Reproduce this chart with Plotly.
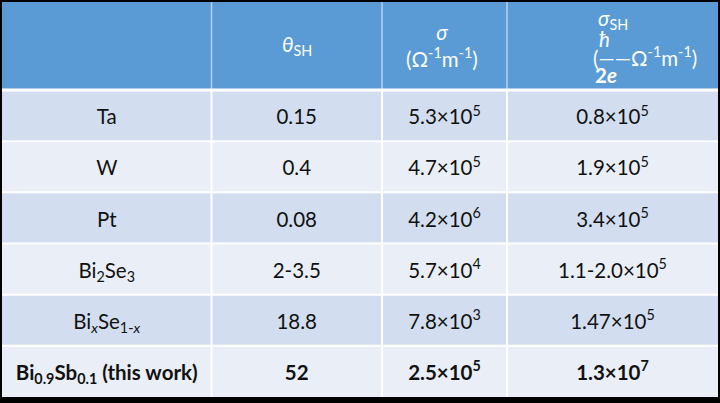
import plotly.graph_objects as go

# table content
materials = ["Ta", "W", "Pt", "Bi<sub>2</sub>Se<sub>3</sub>",
             "Bi<sub><i>x</i></sub>Se<sub>1-<i>x</i></sub>",
             "Bi<sub>0.9</sub>Sb<sub>0.1</sub> (this work)"]
theta_sh = ["0.15", "0.4", "0.08", "2-3.5", "18.8", "52"]
sigma_mant = ["5.3", "4.7", "4.2", "5.7", "7.8", "2.5"]
sigma_exp = [5, 5, 6, 4, 3, 5]
sigma_sh_mant = ["0.8", "1.9", "3.4", "1.1-2.0", "1.47", "1.3"]
sigma_sh_exp = [5, 5, 5, 5, 5, 7]

# geometry (px inside the table)
col_edges = [0, 209.5, 380, 505, 716]
header_h = 88
row_h = 51.2

def sci(m, e):
    return f"{m}×10<sup>{e}</sup>"

sigma = [sci(m, e) for m, e in zip(sigma_mant, sigma_exp)]
sigma_sh = [sci(m, e) for m, e in zip(sigma_sh_mant, sigma_sh_exp)]
cols = [materials, theta_sh, sigma, sigma_sh]
n = len(materials)

row_edges = [0, header_h] + [header_h + row_h * (i + 1) for i in range(n)]
col_mid = [(a + b) / 2 for a, b in zip(col_edges[:-1], col_edges[1:])]
# text sits a little below the geometric middle, like the original
row_mid = [(a + b) / 2 + 3.5 for a, b in zip(row_edges[1:-1], row_edges[2:])]

# fills: 0 header, 1 dark row, 2 light row
z = [[0] * 4] + [[1 if i % 2 == 0 else 2] * 4 for i in range(n)]

fig = go.Figure()
fig.add_trace(go.Heatmap(
    x=col_edges, y=row_edges, z=z, zmin=0, zmax=2,
    colorscale=[[0, "#5B9BD5"], [0.5, "#D2DEEF"], [1, "#EAEFF7"]],
    showscale=False, hoverinfo="skip",
))

# body text
font = dict(family="Lato", size=20.5, color="#111111")
for j, col in enumerate(cols):
    txt = [f"<b>{v}</b>" if i == n - 1 else v for i, v in enumerate(col)]
    fig.add_trace(go.Scatter(
        x=[col_mid[j]] * n, y=row_mid, text=txt, mode="text",
        textposition="middle center", textfont=font, hoverinfo="skip",
        showlegend=False, cliponaxis=False,
    ))

# header text
hfont = dict(family="Lato", size=20.5, color="white")
hc = header_h / 2
fig.add_annotation(x=col_mid[1], y=hc, text="<i>θ</i><sub>SH</sub>", showarrow=False, font=hfont)
fig.add_annotation(x=col_mid[2] - 3, y=hc, text="<i>σ</i><br>(Ω<sup>-1</sup>m<sup>-1</sup>)",
                   showarrow=False, font=hfont)
fig.add_annotation(x=col_mid[3], y=hc - 26, text="<i>σ</i><sub>SH</sub>", showarrow=False, font=hfont)
fig.add_annotation(x=col_mid[3] - 22, y=hc + 11, text="(――Ω<sup>-1</sup>m<sup>-1</sup>)",
                   showarrow=False, font=hfont, xanchor="left")
fig.add_annotation(x=col_mid[3] - 8, y=hc - 7, text="<i>ħ</i>", showarrow=False, font=hfont)
fig.add_annotation(x=col_mid[3] - 7, y=hc + 29, text="<b>2<i>e</i></b>", showarrow=False, font=hfont)

# grid lines
for x in col_edges[1:-1]:
    fig.add_shape(type="line", x0=x, x1=x, y0=0, y1=header_h, line=dict(color="#B4D0EC", width=1.5))
    fig.add_shape(type="line", x0=x, x1=x, y0=header_h, y1=row_edges[-1], line=dict(color="white", width=2))
fig.add_shape(type="line", x0=0, x1=col_edges[-1], y0=header_h, y1=header_h, line=dict(color="white", width=3))
for y in row_edges[2:-1]:
    fig.add_shape(type="line", x0=0, x1=col_edges[-1], y0=y, y1=y, line=dict(color="white", width=2))

fig.update_xaxes(range=[0, col_edges[-1]], visible=False, fixedrange=True)
fig.update_yaxes(range=[row_edges[-1], 0], visible=False, fixedrange=True)
fig.update_layout(width=720, height=403, margin=dict(l=2, r=2, t=2, b=6),
                  paper_bgcolor="black", plot_bgcolor="black", showlegend=False)

fig.write_html("out.html", config={"displayModeBar": False},
               post_script="document.body.style.margin='0';document.body.style.background='black';")
